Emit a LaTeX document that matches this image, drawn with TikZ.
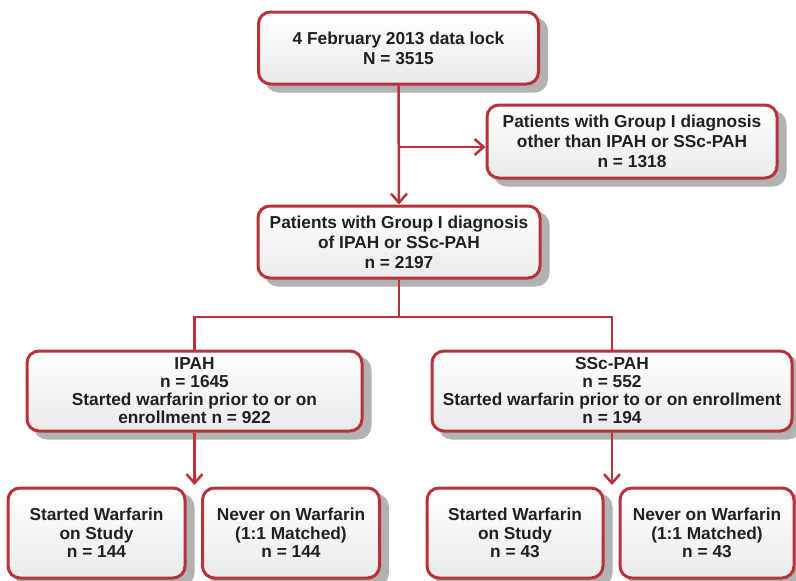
\documentclass[tikz,border=0pt]{standalone}
\usepackage{fontspec}
\setmainfont{Liberation Sans}
\usetikzlibrary{arrows.meta}
\definecolor{bred}{RGB}{184,50,56}
\definecolor{txt}{RGB}{35,31,32}
\definecolor{shad}{RGB}{178,178,178}
\begin{document}
\begin{tikzpicture}[x=1pt,y=-1pt,
 box/.style={draw=bred, line width=3pt, rounded corners=12pt, top color=white, bottom color=gray!16,
   align=center, text=txt, font=\bfseries\fontsize{17.3}{20}\selectfont, inner sep=0pt,
   preaction={draw=shad, fill=shad, line width=3pt, transform canvas={xshift=8pt,yshift=-7pt}}},
 tight/.style={font=\bfseries\fontsize{17.3}{18}\selectfont},
 low/.style={font=\bfseries\fontsize{17.3}{18.5}\selectfont},
 conn/.style={draw=bred, line width=2.5pt},
 arr/.style={conn, -{Straight Barb[length=9pt,width=16pt,line width=2.5pt]}}]
\useasboundingbox (0,0) rectangle (796,581);

\node[box, minimum width=280pt, minimum height=72pt] (top) at (398.5,48)
  {4 February 2013 data lock\\N = 3515};
\node[box, minimum width=290pt, minimum height=73pt] (other) at (632,141.5)
  {Patients with Group I diagnosis\\other than IPAH or SSc-PAH\\n = 1318};
\node[box, minimum width=282pt, minimum height=72pt] (mid) at (399,242)
  {Patients with Group I diagnosis\\of IPAH or SSc-PAH\\n = 2197};
\node[box, tight, minimum width=335pt, minimum height=80pt] (ipah) at (194.5,391)
  {IPAH\\n = 1645\\Started warfarin prior to or on\\enrollment n = 922};
\node[box, tight, minimum width=360pt, minimum height=80pt] (ssc) at (612,391)
  {SSc-PAH\\n = 552\\Started warfarin prior to or on enrollment\\n = 194};
\node[box, low, minimum width=177pt, minimum height=90pt] (b1) at (96.5,533)
  {Started Warfarin\\on Study\\n = 144};
\node[box, low, minimum width=177pt, minimum height=90pt] (b2) at (291,533)
  {Never on Warfarin\\(1:1 Matched)\\n = 144};
\node[box, low, minimum width=176pt, minimum height=90pt] (b3) at (515,533)
  {Started Warfarin\\on Study\\n = 43};
\node[box, low, minimum width=174pt, minimum height=90pt] (b4) at (707,533)
  {Never on Warfarin\\(1:1 Matched)\\n = 43};

\coordinate (br) at (399,147);
\coordinate (hb) at (399,317);
\coordinate (a1) at (194.5,485);
\coordinate (a2) at (612,485);

\draw[arr] (top.south) -- (mid.north);
\draw[arr] (br) -- (br -| other.west);
\draw[conn] (mid.south) -- (hb);
\draw[conn] (ipah.north) |- (hb) -| (ssc.north);
\draw[arr] (ipah.south) -- (a1);
\draw[arr] (ssc.south) -- (a2);
\end{tikzpicture}
\end{document}
